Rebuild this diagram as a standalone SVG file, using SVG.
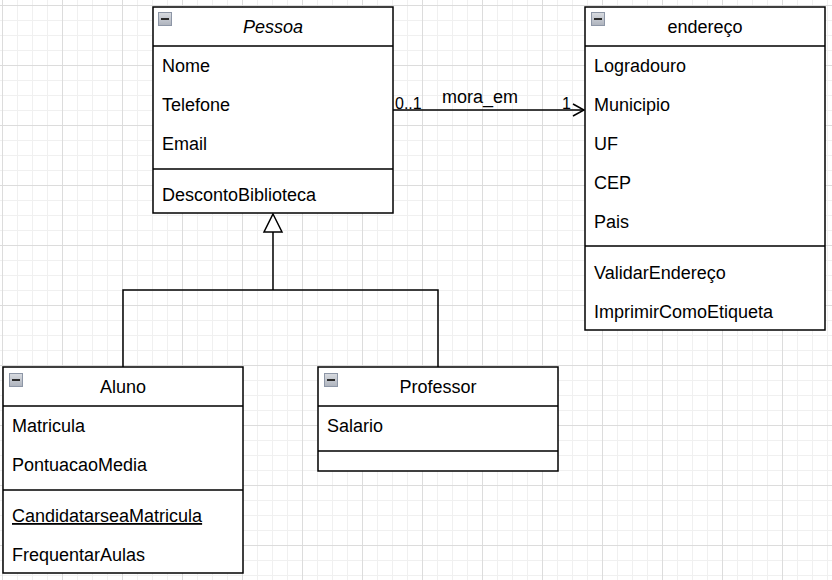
<svg xmlns="http://www.w3.org/2000/svg" width="832" height="580" viewBox="0 0 832 580">
<style>
.box{fill:#ffffff;stroke:#000000;stroke-width:1.5}
.ln{stroke:#000000;stroke-width:1.5;fill:none}
.t{font-family:"Liberation Sans",Arial,sans-serif;font-size:18px;fill:#000000}
.h{font-family:"Liberation Sans",Arial,sans-serif;font-size:18px;fill:#000000;text-anchor:middle}
.e{font-family:"Liberation Sans",Arial,sans-serif;font-size:16px;fill:#000000}
.edge{stroke:#000000;stroke-width:1.5;fill:none}
</style>
<defs>
<linearGradient id="ig" x1="0" y1="0" x2="0" y2="1">
<stop offset="0" stop-color="#d8dbe0"/>
<stop offset="1" stop-color="#aeb3bd"/>
</linearGradient>
<g id="icon">
<rect x="0.5" y="0.5" width="13" height="13" fill="url(#ig)" stroke="#8d96a6" stroke-width="1"/>
<rect x="3" y="6" width="8" height="2" fill="#2a2a2a"/>
</g>
<pattern id="minor" width="15" height="15" patternUnits="userSpaceOnUse" x="2" y="5">
<path d="M0.5 0V15M0 0.5H15" stroke="#f0f0f0" stroke-width="1" fill="none"/>
</pattern>
<pattern id="major" width="60" height="60" patternUnits="userSpaceOnUse" x="2" y="5">
<path d="M0.5 0V60M0 0.5H60" stroke="#dcdcdc" stroke-width="1" fill="none"/>
</pattern>
</defs>
<rect width="832" height="580" fill="#ffffff"/>
<rect width="832" height="580" fill="url(#minor)"/>
<rect width="832" height="580" fill="url(#major)"/>

<g id="connectors">
<g id="assoc">
<path class="edge" d="M393 110H584"/>
<path class="edge" d="M573 104L584 110L573 116"/>
<text class="e" x="395" y="109">0..1</text>
<text class="h" x="480" y="103">mora_em</text>
<text class="e" x="571" y="109" text-anchor="end">1</text>
</g>
<g id="generalization">
<path class="edge" d="M123 367V290H438V367"/>
<path class="edge" d="M273 290V232"/>
<path d="M273 214L282 232H264Z" fill="#ffffff" stroke="#000000" stroke-width="1.5"/>
</g>
</g>

<g id="Pessoa">
<rect class="box" x="153" y="7" width="240" height="206"/>
<path class="ln" d="M153 46H393M153 169H393"/>
<use href="#icon" x="158" y="12"/>
<text class="h" x="273" y="33" font-style="italic">Pessoa</text>
<text class="t" x="162" y="72">Nome</text>
<text class="t" x="162" y="111">Telefone</text>
<text class="t" x="162" y="150">Email</text>
<text class="t" x="162" y="201">DescontoBiblioteca</text>
</g>

<g id="endereco">
<rect class="box" x="585" y="7" width="240" height="323"/>
<path class="ln" d="M585 46H825M585 246H825"/>
<use href="#icon" x="591" y="12"/>
<text class="h" x="705" y="33">endereço</text>
<text class="t" x="594" y="72">Logradouro</text>
<text class="t" x="594" y="111">Municipio</text>
<text class="t" x="594" y="150">UF</text>
<text class="t" x="594" y="189">CEP</text>
<text class="t" x="594" y="228">Pais</text>
<text class="t" x="594" y="279">ValidarEndereço</text>
<text class="t" x="594" y="318">ImprimirComoEtiqueta</text>
</g>

<g id="Aluno">
<rect class="box" x="3" y="367" width="240" height="206"/>
<path class="ln" d="M3 406H243M3 490H243"/>
<use href="#icon" x="9" y="373"/>
<text class="h" x="123" y="393">Aluno</text>
<text class="t" x="12" y="432">Matricula</text>
<text class="t" x="12" y="471">PontuacaoMedia</text>
<text class="t" x="12" y="522" text-decoration="underline">CandidatarseaMatricula</text>
<text class="t" x="12" y="561">FrequentarAulas</text>
</g>

<g id="Professor">
<rect class="box" x="318" y="367" width="240" height="104"/>
<path class="ln" d="M318 406H558M318 451H558"/>
<use href="#icon" x="324" y="373"/>
<text class="h" x="438" y="393">Professor</text>
<text class="t" x="327" y="432">Salario</text>
</g>
</svg>
